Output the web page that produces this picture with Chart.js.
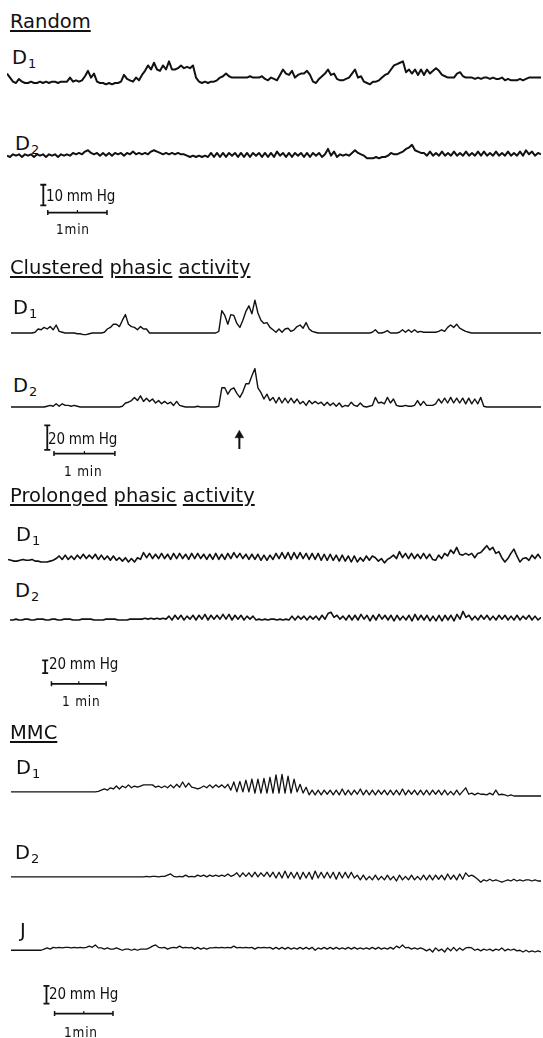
<!DOCTYPE html>
<html>
<head>
<meta charset="utf-8">
<script src="https://cdn.jsdelivr.net/npm/chart.js@4.4.1/dist/chart.umd.min.js"></script>
<style>
  html, body { margin: 0; padding: 0; background: #fff; }
  #page { position: relative; width: 543px; height: 1038px; overflow: hidden;
          font-family: "DejaVu Sans", sans-serif; color: #111; }
  .t { position: absolute; white-space: nowrap; line-height: 1; }
  .title { font-size: 19.5px; }
  .title .u { text-decoration: underline; text-decoration-thickness: 1.5px; text-underline-offset: 2px; }
  .ch { font-size: 19.5px; }
  .ch .sub { font-size: 13px; position: relative; top: 4px; margin-left: 1px; }
  .scale { font-family: "DejaVu Sans Condensed", "DejaVu Sans", sans-serif; font-size: 15px; letter-spacing: -0.2px; }
  .min { font-family: "DejaVu Sans Condensed", "DejaVu Sans", sans-serif; font-size: 13.5px; letter-spacing: 0.8px; }
  canvas { position: absolute; }
</style>
</head>
<body>
<div id="page"></div>
<script>
// pressure traces, mmHg above the resting line, one sample every ~3 s
const randomD1 = [3.5,2,0.5,0,1.5,0.5,0,0,0.5,0, 0,0.5,0,0.5,0,0.5,0.5,0,0.5,0.5,
  0.5,2,0.5,1,0.5,1,2.5,4.5,2,3.5, 0.5,0,0,-0.5,0,-0.5,0,0,0.5,3,
  1.5,1,0.5,2,1,3,4.5,6.5,5,7.5, 5,4.5,6.5,5,8,5,5,5.5,6.5,5.5,
  6,5.5,6.5,2,0.5,0,0.5,0,0.5,0.5, 1,2,2.5,3.5,2.5,2,2,2,2,2,
  2,2.5,2,2,2,2.5,1.5,1,2,1.5, 1,3,5,3.5,3,4.5,2,3,3.5,3.5,
  4.5,3,0.5,0,1.5,2.5,3.5,5,3,3.5, 1.5,1,1,1.5,2,3.5,5,2,2.5,0.5,
  0,-0.5,0.5,0.5,1,2,3,3.5,5,6.5, 7,7.5,8,4,5,3.5,5,3,5,3,
  5,3.5,4.5,5.5,4.5,3,2.5,2,2,2, 3.5,4,2.5,2,2,2,1.5,2,1.5,2,
  2,1.5,2,1.5,1.5,2,1,1.5,1,1, 1,1.5,1,1.5,2,2,2,2,2];
const randomD2 = [0.5,0,1,0.5,1,0,1,0.5,1,0, 1,0.5,1,0,1,0.5,1,0,1,0.5,
  1,0.5,1.5,1,1.5,1,2,2.5,1.5,
  1,1.5,0.5,1.5,0.5,1.5,0.5,1.5,1,1.5,0.5,1.5,1,2,1,1.5,1,1.5,1,
  2,2.5,2,1.5, 1,1.5,1,1.5,1,1.5,1,1, 0.5,0,0.5,0,0.5,0,0.5,0,
  1.5,0,1.5,0,1.5,0,1.5,0.5,1.5,0, 1.5,0,1.5,0,1.5,0.5,1.5,0,1.5,0,
  1.5,0,2,0.5,1.5,0,1.5,0,1.5,0.5, 1.5,0,1.5,0,1.5,0.5,1.5,0,1,
  3,0.5,2,0,1,0.5,1,0.5,1.5,2.5,1.5,1,0.5,-0.5,-0.5,-0.5,0,-0.5,0,0,0.5,
  1.5,1,1,1.5,2,3,3.5,4.5,2.5,2,1.5,1.5,
  0.5,2,0.5,1.5,0.5,2,0.5,1.5,0.5,2, 0.5,1.5,0.5,2,0.5,1.5,0.5,2,0.5,2,
  0.5,1.5,0.5,2,0.5,1.5,0.5,2,0.5,1.5, 0.5,2,0.5,2.5,1,2,0.5,1.5,1];

const clusteredD1 = [0,0,0,0,0,0,0,0,
  0.5,2.5,2,3.5,2.5,4,2,5,1,0.5,0,
  0,0,0,-0.5,-0.5,-1,-1,-0.5,0,0,0,0,0.5,
  2.5,3.5,5.5,5.5,4,8,11.5,5.5,4,3.5,2,4,2.5,2.5,0,
  0,0,0,0,0,0,0,0,0,0,0,0,0,0,0,0,0,0,0,0,0,0,
  1,14,11,5.5,11.5,11,6,3.5,8,13.5,17,12,20.5,12.5,8,6,6.5,3.5,
  2,0.5,2.5,0.5,2.5,3,1,2,4,5,3,6.5,2.5,1,0.5,0,
  0,0,0,0,0,0,0,0,0,0,0,0,0,0,0,0,0,
  0.5,2,0,0,0.5,1.5,0,0,
  0,0.5,2,0.5,2,0.5,2,0.5,1,0.5,0.5,0.5,0.5,0.5,1,2,1,3.5,5,3.5,5.5,3,2,1,0.5,0,
  0,0,0,0,0,0,0,0,0,0,0,0,0,0,0,0,0,0,0,0,0,0,0];
const clusteredD2 = [0,0,0,0,0,0,0,0,0,0,0,0,
  0.5,1,0.5,2,0.5,2,1,1,0.5,1,0.5,0,
  0,0,0,0,0,0,0,0,0,0,0,0,0,
  0.5,2.5,3,4,6,4,7,3.5,5.5,3.5,5,2.5,4,2,3.5,2,3,1,3.5,1,0.5,0,
  0,0,0,0.5,0,0,0,0,0,0,
  0.5,12,12,8,11,12,8.5,6,9.5,14.5,14.5,19.5,24,12,9,5,8,4,
  6,2.5,6,2.5,5.5,2.5,5.5,2.5,5,2,
  3.5,1,4,2,3.5,2,3,1,3,1,2.5,0.5,2.5,0,1,0.5,3,1,0.5,2.5,0.5,0,0.5,1,
  6,2.5,3,2,6,2.5,5,1,0.5,0.5,1,0.5,0.5,1,4,1,3.5,1,1,1,
  2,5,2.5,5.5,2.5,6,2.5,5.5,2.5,5.5,2,5.5,2,5,2,6,0.5,0,
  0,0,0,0,0,0,0,0,0,0,0,0,0,0,0,0,0,0];

const prolongedD1 = [3,2,1,1,2,3,2,2,3,1,1,0,0,0,1,2,4,
  7,3,8,3,7,3,8,4,9,4, 8,4,9,3,8,3,7,2,7,2, 5,1,5,0,4,0,5,3,11,5,
  10,4,9,4,10,4,9,3,10,4, 10,4,9,3,10,4,10,4,9,3, 9,3,10,3,9,3,10,4,11,5,
  10,4,9,3,9,3,9,2,8,2, 8,
  3,10,4,11,4,11,3,11,4,11, 4,10,3,10,3,10,2,9,2,9, 2,8,1,8,1,7,0,7,0,5, 1,7,2,7,
  5,1,4,-1,3,5,8,4,12,5, 10,4,10,4,9,4,10,4,9,3, 2,8,4,10,7,14,10,17,9,8,
  10,8,10,5,10,11,15,19,14,17, 10,12,5,0,4,10,15,7,0,4, 5,2,8,4,9,4];
const prolongedD2 = [0,0,1,0,0,1,1,0,0,1, 1,1,0,0,1,1,0,0,1,1, 1,0,0,0,1,1,1,1,0,0,
  0,0,1,1,1,1,0,0,0,0, 1,1,1,1,1,2,1,2,1,2, 1,2,1,
  4.5,0,5.5,1,5.5,0,4.5,1,5.5,0, 5.5,1,6.5,0,5.5,1,5.5,1,6.5,1, 6.5,0,5.5,1,5.5,0,4.5,1,4.5,0, 1,0,1,0,1,
  1,0,1,0,1,0,
  4.5,0,4.5,1,4.5,0,4.5,1,4.5,0,5.5,1,7.5,9,3,5.5,1,4.5,0,
  5.5,0,5.5,0,6.5,1,5.5,-1,5.5,0, 6.5,1,5.5,0,5.5,-1,5.5,0,4.5,0, 5.5,-1,6.5,0,5.5,0,5.5,-1,
  4.5,-1,5.5,-1,5.5,0,5.5,-1,6.5,1,10,3,
  5.5,0,4.5,0,5.5,1,5.5,0,4.5,0, 5.5,1,5.5,0,4.5,0,5.5,0,4.5,1, 5.5,0,4.5,0,3];

const mmcD1 = [3.5,3.5,3.5,3.5,3.5,3.5,3.5,3.5,3.5,3.5,3.5,3.5,3.5,3.5,3.5,3.5,3.5,3.5,3.5,3.5,3.5,3.5,3.5,3.5,3.5,
  3.5,3.5,3.5,3.5,4,
  5,6,5,7,6,8.5,6,8.5,7,9.5, 7,8.5,7.5,8.5,9.5,9.5,9.5,9.5,7.5,8.5, 7,8.5,7,9.5,7,10,7.5,12,7.5,11,
  7.5,7,6,7,8.5,7,9.5,7,9.5,7.5, 9.5,7,10,5,12,3.5,12.5,3.5,13.5,3.5, 14.5,2.5,14.5,2.5,15,2.5,16,2.5,18,2.5,
  18.5,2.5,17,2.5,14.5,3.5,10,2.5,7.5,
  1,5,1,5,1,5,1.5,5,1,5, 1,6,1,5,1,5,1.5,6,1,5, 1,5,1,5,1.5,5,1,5,1,5, 1,6,1,5,1.5,5,1,5,1,5,
  1,5,1.5,5,1,5,1,4,1,5, 1,4,7,
  1.5,2.5,1,2.5,1.5,1.5,1,2.5,1,5,1,1.5,1,0,1,0,0,0,0,0,0,0,0,0,0];
const mmcD2 = [3.5,3.5,3.5,3.5,3.5,3.5,3.5,3.5,3.5,3.5,3.5,3.5,3.5,3.5,3.5,3.5,3.5,3.5,3.5,3.5,3.5,3.5,3.5,
  3.5,3.5,3.5,3.5,3.5,3.5,3.5,3.5,3.5,3.5,3.5,3.5,3.5,3.5,3.5,3.5,3.5,3.5,3.5,3.5,3.5,3.5,
  4,3.5,4,4,3.5,4,4,5, 6,4,3.5,
  4,3.5,5,3.5,4,3.5,5,4,5,3.5,5,4,5,4,5,4,6,4,5,
  7,3.5,7,4,7,3.5,7.5,3.5,7,4,7.5,3.5,
  7.5,2.5,7.5,2.5,8.5,2.5,7.5,2.5,7.5,1.5,7.5,2.5,7.5,1.5,8.5,2.5,7.5,2.5,7.5,2.5,7.5,1.5,7.5,2.5,7.5,2.5,7.5,2.5,
  5,1,5,1,4,1,5,1,4,1,5,1,4,0,5,1,4,1,5,1,4,1,5,1,5,1,5,1.5,5,1,6,1.5,5,1,6,1.5,
  7,4,5,3.5,1.5,-1,1,0,1.5,0,1,0,-1,0,1,0,1.5,0,1,0,1,1,0,1,0,0];
const mmcJ = [1.5,1.5,1.5,1.5,1.5,1.5,1.5,1.5,1.5,1.5,1.5,
  2.5,3.5,2.5,4,3.5,4,3.5,4,4,3.5,4,3.5,4,3.5,4,5,4,6,3.5,
  3.5,2.5,3.5,2.5,2.5,3.5,2.5,1.5,2.5,2.5,1.5,2.5,1.5,2.5,2.5,2.5,3.5,
  5,6,4,3.5,4,2.5,
  3.5,4,3.5,5,3.5,4,3.5,4,2.5,4, 2.5,3.5,2.5,3.5,3.5,4,3.5,4,3.5,4, 3.5,5,3.5,4,3.5,4,3.5,4,2.5,4, 3.5,4,3.5,4,
  2.5,4,2.5,4,2.5,4,2.5,3.5,2.5,4, 2.5,4,2.5,4,1.5,3.5,2.5,4,2.5,4, 2.5,4,2.5,3.5,2.5,4,2.5,4,2.5,3.5,
  2.5,3.5,2.5,4,2.5,4,2.5,3.5,2.5,4, 2.5,5,3.5,6,3.5,4,2.5,3.5,2.5,3.5,
  2.5,1,2.5,0,3.5,1,2.5,0,3.5,1,4,1,3.5,1.5,
  3.5,4,3.5,1.5,2.5,1,2.5,1.5,2.5,1,2.5,1.5,3.5,1,2.5,1.5,2.5,1,1.5,0,1.5,0,1,0,1,0];

const sectionTitles = ['Random', 'Clustered phasic activity', 'Prolonged phasic activity', 'MMC'];
const channelNames = [['D1', 'D2'], ['D1', 'D2'], ['D1', 'D2'], ['D1', 'D2', 'J']];
const pressureBarMmHg = [10, 20, 20, 20];
const timeBarMin = [1, 1, 1, 1];
const timeBarText = ['1min', '1 min', '1 min', '1min'];
const arrowAtSeconds = 219; // clustered section, from start of trace

const traceData = [[randomD1, randomD2], [clusteredD1, clusteredD2],
                   [prolongedD1, prolongedD2], [mmcD1, mmcD2, mmcJ]];

// layout only (pixels)
const layout = [
  { titleTop: 14, pps: 1.1, ppm: 2.7, x1: 541, lw: 2,
    traces: [{ x0: 7, base: 83, lx: 12, lt: 50 }, { x0: 7, base: 157, lx: 15, lt: 136 }],
    bar: { x: 41, bottom: 207.5, tx: 46, ty: 217, labelX: 46, labelMid: 196, minX: 56, minMid: 229 } },
  { titleTop: 260, pps: 1.067, ppm: 1.6, x1: 541, lw: 1.4,
    traces: [{ x0: 11, base: 333, lx: 13, lt: 300 }, { x0: 11, base: 407, lx: 13, lt: 378 }],
    bar: { x: 43, bottom: 453, tx: 50, ty: 458, labelX: 48, labelMid: 439, minX: 64, minMid: 471 },
    arrow: { top: 429, bottom: 452 } },
  { titleTop: 488, pps: 1.017, ppm: 0.86, x1: 541, lw: 1.6,
    traces: [{ x0: 8, base: 562, lx: 16, lt: 527 }, { x0: 10, base: 620, lx: 15, lt: 583 }],
    bar: { x: 43, bottom: 673.5, tx: 50, ty: 688, labelX: 49, labelMid: 664, minX: 62, minMid: 701 } },
  { titleTop: 725, pps: 1.083, ppm: 1.17, x1: 541, lw: 1.3,
    traces: [{ x0: 11, base: 796, lx: 16, lt: 760 }, { x0: 11, base: 881, lx: 15, lt: 845 },
             { x0: 11, base: 952, lx: 20, lt: 923 }],
    bar: { x: 44, bottom: 1005, tx: 53, ty: 1018, labelX: 49, labelMid: 994, minX: 64, minMid: 1032 } }
];

const INK = '#111';
const page = document.getElementById('page');

function addText(cls, html, left, top) {
  const d = document.createElement('div');
  d.className = 't ' + cls;
  d.style.left = left + 'px';
  d.style.top = top + 'px';
  d.innerHTML = html;
  page.appendChild(d);
}

function addCanvas(left, top, w, h) {
  const c = document.createElement('canvas');
  c.width = w; c.height = h;
  c.style.left = left + 'px'; c.style.top = top + 'px';
  c.style.width = w + 'px'; c.style.height = h + 'px';
  page.appendChild(c);
  return c;
}

function chartOptions(xmax, ymin, ymax) {
  return {
    responsive: false, animation: false, events: [],
    layout: { padding: 0 },
    plugins: { legend: { display: false }, tooltip: { enabled: false } },
    scales: {
      x: { type: 'linear', display: false, min: 0, max: xmax },
      y: { type: 'linear', display: false, min: ymin, max: ymax }
    }
  };
}

function drawTrace(values, sec, tr) {
  const n = values.length;
  const w = sec.x1 - tr.x0;
  const tmax = w / sec.pps;
  const pts = values.map((v, i) => ({ x: i * tmax / (n - 1), y: v }));
  const top = Math.floor(tr.base - (Math.max(...values) + 3) * sec.ppm);
  const bottom = Math.ceil(tr.base - (Math.min(...values) - 3) * sec.ppm);
  const c = addCanvas(tr.x0, top, w, bottom - top);
  new Chart(c, {
    type: 'line',
    data: { datasets: [{ data: pts, borderColor: INK, borderWidth: sec.lw, pointRadius: 0,
      tension: 0, clip: false, borderJoinStyle: 'round' }] },
    options: chartOptions(tmax, (tr.base - bottom) / sec.ppm, (tr.base - top) / sec.ppm)
  });
}

function drawScale(k) {
  const sec = layout[k], b = sec.bar, x0 = sec.traces[0].x0;
  const mm = pressureBarMmHg[k];
  const barTop = b.bottom - mm * sec.ppm;
  let right = b.tx + timeBarMin[k] * 60 * sec.pps + 8;
  let topPx = barTop - 6;
  if (sec.arrow) {
    right = Math.max(right, x0 + arrowAtSeconds * sec.pps + 10);
    topPx = Math.min(topPx, sec.arrow.top - 4);
  }
  const top = Math.floor(topPx), bottom = Math.ceil(b.ty + 6);
  const w = Math.ceil(right - x0);
  const toY = px => (b.bottom - px) / sec.ppm;
  const tI = (b.x - x0) / sec.pps;
  const t0 = (b.tx - x0) / sec.pps, t1 = t0 + timeBarMin[k] * 60;
  const yh = toY(b.ty);
  const datasets = [
    { data: [{ x: tI, y: 0 }, { x: tI, y: mm }], borderColor: INK, borderWidth: 1.8,
      pointStyle: 'line', pointRadius: 3, pointBorderWidth: 1.8, pointBorderColor: INK, pointRotation: 0 },
    { data: [{ x: t0, y: yh }, { x: t1, y: yh }], borderColor: INK, borderWidth: 1.8,
      pointStyle: 'line', pointRadius: 2.5, pointBorderWidth: 1.5, pointBorderColor: INK, pointRotation: 90 },
    { data: [{ x: (t0 + t1) / 2, y: toY(b.ty - 1.5) }], showLine: false,
      pointStyle: 'line', pointRadius: 1.5, pointBorderWidth: 1.2, pointBorderColor: INK, pointRotation: 90 }
  ];
  if (sec.arrow) {
    const a = sec.arrow;
    datasets.push({ data: [{ x: arrowAtSeconds, y: toY(a.bottom) }, { x: arrowAtSeconds, y: toY(a.top + 7) }],
      borderColor: INK, borderWidth: 2, pointRadius: 0 });
    datasets.push({ data: [{ x: arrowAtSeconds, y: toY(a.top + 5) }], showLine: false,
      pointStyle: 'triangle', pointRadius: 5, pointBackgroundColor: INK, pointBorderColor: INK, pointBorderWidth: 0.5 });
  }
  const c = addCanvas(x0, top, w, bottom - top);
  new Chart(c, { type: 'line', data: { datasets },
    options: chartOptions(w / sec.pps, toY(bottom), toY(top)) });

  addText('scale', mm + ' mm Hg', b.labelX, b.labelMid - 7.2);
  addText('min', timeBarText[k], b.minX, b.minMid - 6.5);
}

layout.forEach((sec, k) => {
  const words = sectionTitles[k].split(' ').map(w => '<span class="u">' + w + '</span>').join(' ');
  addText('title', words, 10, sec.titleTop - 2.3);
  sec.traces.forEach((tr, j) => {
    const name = channelNames[k][j];
    const html = name.length > 1 ? name[0] + '<span class="sub">' + name.slice(1) + '</span>' : name;
    addText('ch', html, tr.lx, tr.lt - 2.3);
    drawTrace(traceData[k][j], sec, tr);
  });
  drawScale(k);
});
</script>
</body>
</html>
